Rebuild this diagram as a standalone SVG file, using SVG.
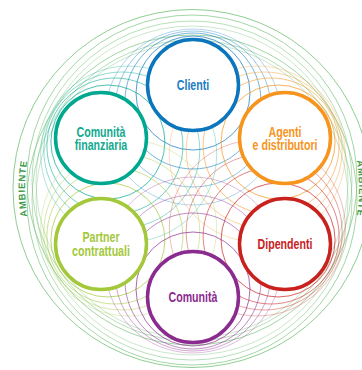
<svg xmlns="http://www.w3.org/2000/svg" width="362" height="370" viewBox="0 0 362 370">
<defs>
<style>
.bg{fill:#ffffff}
.amb{fill:none;stroke:#7cc47f;stroke-width:1}
.rip{fill:none;stroke-width:1}
.node{fill:#ffffff;stroke-width:3.5}
.lbl{font-family:"Liberation Sans",Arial,sans-serif;font-size:14px;font-weight:bold;text-anchor:middle}
.ambt{font-family:"Liberation Sans",Arial,sans-serif;font-size:9.5px;font-weight:bold;fill:#3f9b4b;letter-spacing:0.8px}
.r1{stroke-opacity:.7}.r2{stroke-opacity:.55}.r3{stroke-opacity:.42}.r4{stroke-opacity:.3}
.blue{stroke:#0b76bd}.teal{stroke:#00a88f}.orange{stroke:#f7941d}.lime{stroke:#a3c83a}.red{stroke:#c9211e}.purple{stroke:#8b2b8f}
</style>
<path id="ambL" d="M 47.4 272 A 167 167 0 0 1 47.4 105"/>
<path id="ambR" d="M 336.6 105 A 167 167 0 0 1 336.6 272"/>
</defs>
<rect class="bg" x="0" y="0" width="362" height="370"/>

<g id="ambiente">
<circle class="amb" cx="192" cy="188.5" r="179" stroke-opacity=".85"/>
<circle class="amb" cx="192" cy="180" r="165" stroke-opacity=".7"/>
<circle class="amb" cx="192" cy="181" r="160" stroke-opacity=".55"/>
<circle class="amb" cx="192" cy="182" r="156" stroke-opacity=".4"/>
<circle class="amb" cx="192" cy="200" r="165" stroke-opacity=".7"/>
<circle class="amb" cx="192" cy="200" r="160" stroke-opacity=".55"/>
<circle class="amb" cx="192" cy="199" r="156" stroke-opacity=".4"/>
<text class="ambt"><textPath href="#ambL" startOffset="50%" text-anchor="middle">AMBIENTE</textPath></text>
<text class="ambt"><textPath href="#ambR" startOffset="50%" text-anchor="middle">AMBIENTE</textPath></text>
</g>

<g id="connectors">
<g class="blue">
<circle class="rip r1" cx="193" cy="93" r="57"/>
<circle class="rip r2" cx="193" cy="101" r="68"/>
<circle class="rip r3" cx="193" cy="109" r="78"/>
<circle class="rip r4" cx="193" cy="117" r="88"/>
</g>
<g class="teal">
<circle class="rip r1" cx="107.9" cy="142" r="57"/>
<circle class="rip r2" cx="114.9" cy="146" r="68"/>
<circle class="rip r3" cx="121.8" cy="150" r="78"/>
<circle class="rip r4" cx="128.7" cy="154" r="88"/>
</g>
<g class="orange">
<circle class="rip r1" cx="278.1" cy="142" r="57"/>
<circle class="rip r2" cx="271.1" cy="146" r="68"/>
<circle class="rip r3" cx="264.2" cy="150" r="78"/>
<circle class="rip r4" cx="257.3" cy="154" r="88"/>
</g>
<g class="lime">
<circle class="rip r1" cx="107.9" cy="240" r="57"/>
<circle class="rip r2" cx="114.9" cy="236" r="68"/>
<circle class="rip r3" cx="121.8" cy="232" r="78"/>
<circle class="rip r4" cx="128.7" cy="228" r="88"/>
</g>
<g class="red">
<circle class="rip r1" cx="278.1" cy="240" r="57"/>
<circle class="rip r2" cx="271.1" cy="236" r="68"/>
<circle class="rip r3" cx="264.2" cy="232" r="78"/>
<circle class="rip r4" cx="257.3" cy="228" r="88"/>
</g>
<g class="purple">
<circle class="rip r1" cx="193" cy="289" r="57"/>
<circle class="rip r2" cx="193" cy="281" r="68"/>
<circle class="rip r3" cx="193" cy="273" r="78"/>
<circle class="rip r4" cx="193" cy="265" r="88"/>
</g>
</g>

<g id="clienti">
<circle class="node blue" cx="193" cy="85" r="45.5"/>
<text class="lbl" fill="#1a7cc1" transform="translate(193,90) scale(0.76,1)">Clienti</text>
</g>
<g id="comunita-finanziaria">
<circle class="node teal" cx="101" cy="138" r="45.5"/>
<text class="lbl" fill="#12aa8f" transform="translate(101,0) scale(0.76,1)"><tspan x="0" y="137.5">Comunità</tspan><tspan x="0" y="150.5">finanziaria</tspan></text>
</g>
<g id="agenti">
<circle class="node orange" cx="285" cy="138" r="45.5"/>
<text class="lbl" fill="#f7941d" transform="translate(285,0) scale(0.76,1)"><tspan x="0" y="137.5">Agenti</tspan><tspan x="0" y="150.5">e distributori</tspan></text>
</g>
<g id="partner">
<circle class="node lime" cx="101" cy="244" r="45.5"/>
<text class="lbl" fill="#a3c83a" transform="translate(101,0) scale(0.76,1)"><tspan x="0" y="242">Partner</tspan><tspan x="0" y="256">contrattuali</tspan></text>
</g>
<g id="dipendenti">
<circle class="node red" cx="285" cy="244" r="45.5"/>
<text class="lbl" fill="#c9211e" transform="translate(285,248.5) scale(0.76,1)">Dipendenti</text>
</g>
<g id="comunita">
<circle class="node purple" cx="193" cy="297" r="45.5"/>
<text class="lbl" fill="#8b2b8f" transform="translate(193,301.5) scale(0.76,1)">Comunità</text>
</g>
</svg>
